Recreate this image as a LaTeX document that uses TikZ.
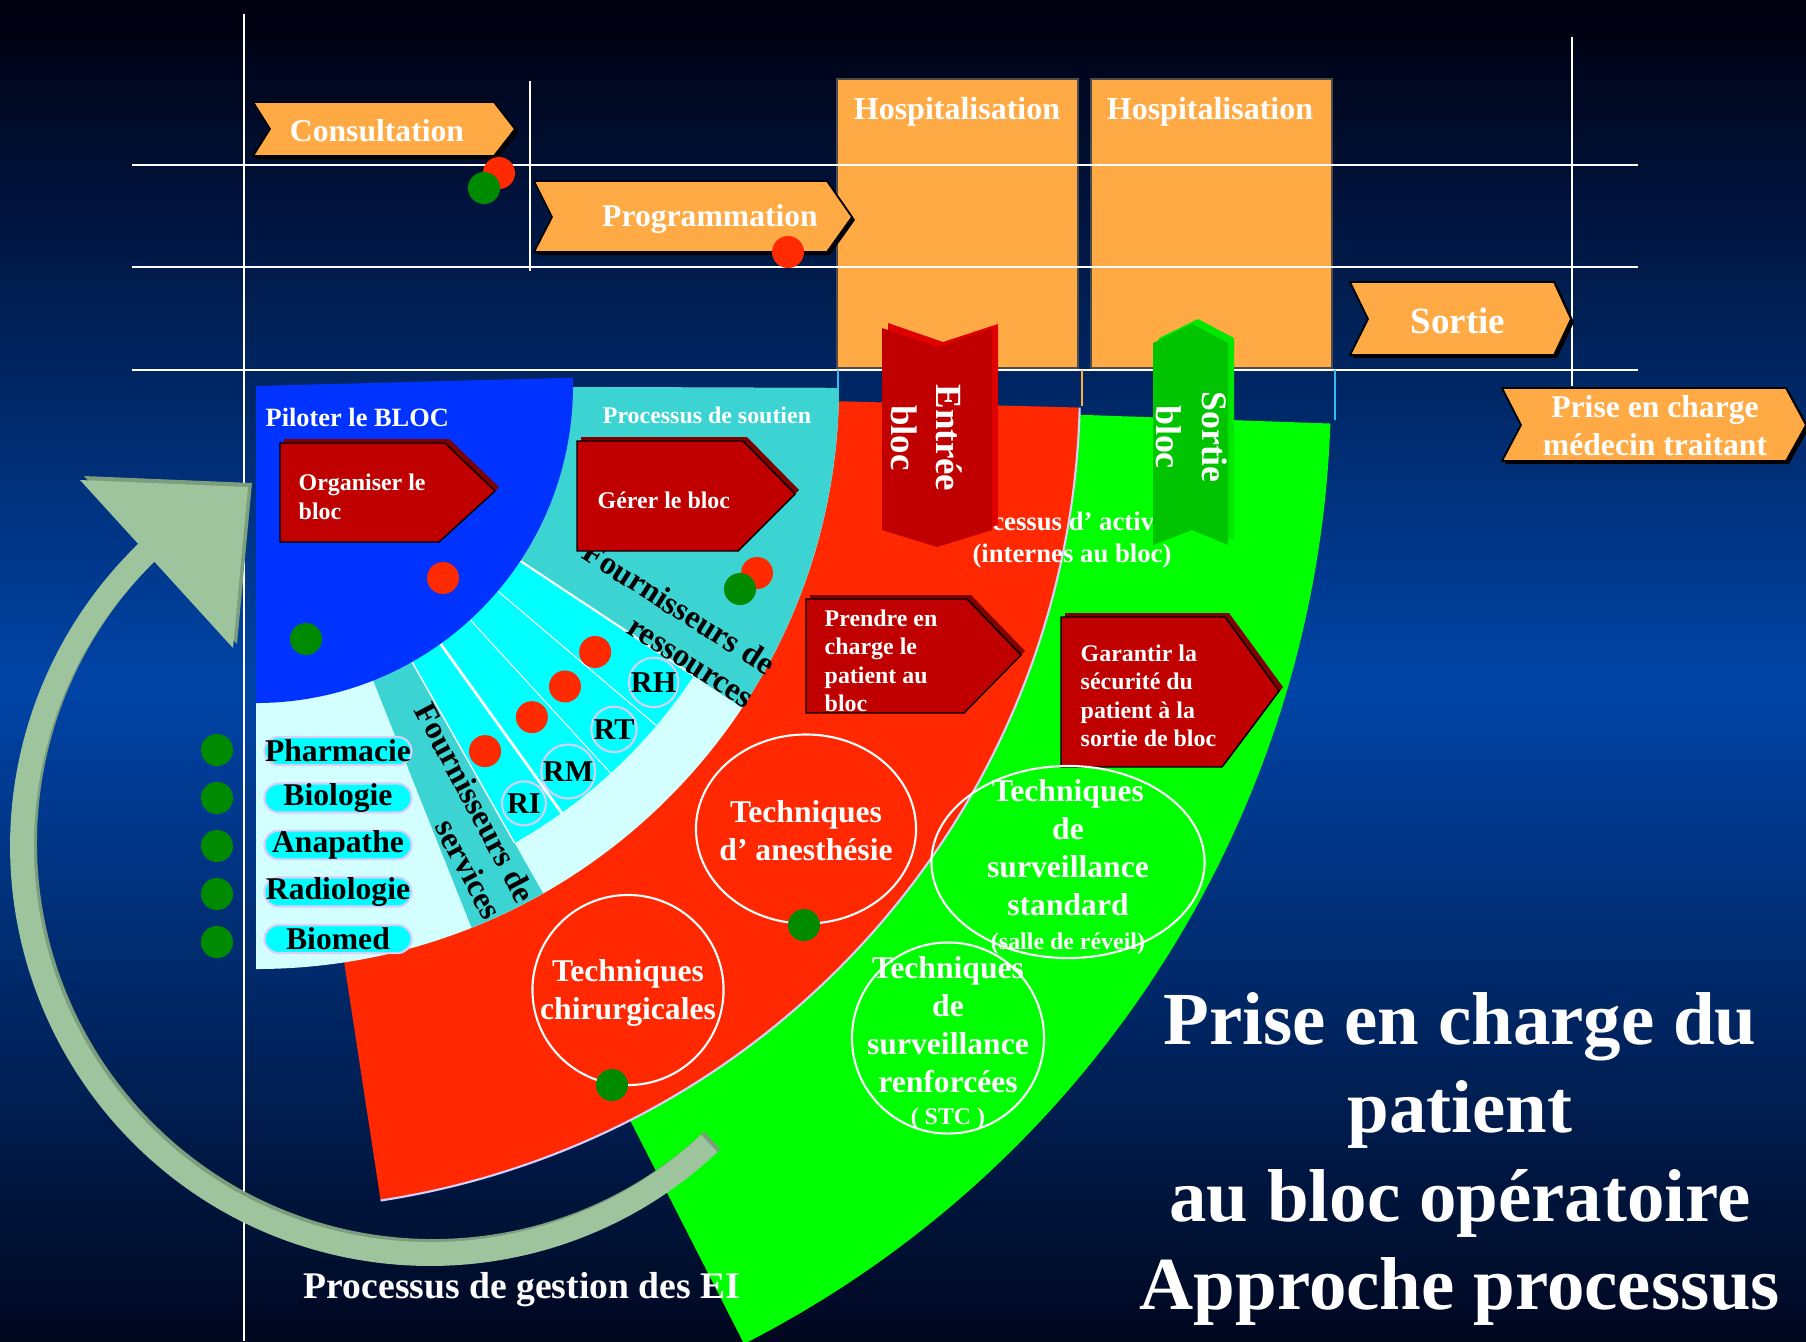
\documentclass[tikz,border=0pt]{standalone}
\usepackage{fontspec}
\setmainfont{Liberation Serif}
\usetikzlibrary{shapes.geometric}

\definecolor{bgtop}{HTML}{000010}
\definecolor{bgmid}{HTML}{0044A6}
\definecolor{bgbot}{HTML}{00061C}
\definecolor{boxorange}{HTML}{FFAA44}
\definecolor{pilotblue}{HTML}{0033FF}
\definecolor{soutien}{HTML}{3CD3D3}
\definecolor{cyanband}{HTML}{00FFFF}
\definecolor{palecyan}{HTML}{D4FFFF}
\definecolor{activred}{HTML}{FF2800}
\definecolor{activgreen}{HTML}{00FF00}
\definecolor{procred}{HTML}{C00000}
\definecolor{procdark}{HTML}{800000}
\definecolor{entreeside}{HTML}{E00000}
\definecolor{sortiefront}{HTML}{00C400}
\definecolor{sortieside}{HTML}{00E800}
\definecolor{dotred}{HTML}{FF2A00}
\definecolor{dotgreen}{HTML}{008A00}
\definecolor{loopgreen}{HTML}{9DC49D}
\definecolor{loopdark}{HTML}{7C9E7C}
\definecolor{lavender}{HTML}{D6D0FF}

\tikzset{
  lbl/.style 2 args={inner sep=0pt, text=white, font=\bfseries\fontsize{#1}{#2}\selectfont},
  darklbl/.style 2 args={lbl={#1}{#2}, text=black},
  chev/.style={fill=boxorange, draw=black, line width=0.5pt,
    preaction={fill=black, transform canvas={shift={(3,3)}}}},
  hospbox/.style={fill=boxorange, draw=black!70, line width=0.4pt},
  procbox/.style={fill=procred, preaction={fill=procdark, transform canvas={shift={(4,-4)}}}},
  gridline/.style={white, line width=0.75pt},
  techcirc/.style={ellipse, draw=white, line width=0.6pt, inner sep=0pt},
  rescirc/.style={circle, draw=lavender, line width=0.6pt, minimum size=0.44cm, inner sep=0pt,
    text=black, font=\bfseries\fontsize{8.6}{10}\selectfont},
  pill/.style={rounded corners=0.14cm, fill=cyanband, draw=lavender, line width=0.6pt,
    minimum width=1.47cm, minimum height=0.28cm, inner sep=0pt,
    text=black, font=\bfseries\fontsize{9}{10}\selectfont},
}

\begin{document}
\begin{tikzpicture}[x=0.01cm, y=-0.01cm]
  \useasboundingbox (0,0) rectangle (1806,1341);
  % fond en degrade
  \foreach \i in {0,...,33}{
    \pgfmathtruncatemacro\p{\i*3}
    \fill[bgmid!\p!bgtop] (0,{\i*20}) rectangle (1806,{\i*20+21});
  }
  \foreach \i in {0,...,33}{
    \pgfmathtruncatemacro\p{\i*3}
    \fill[bgbot!\p!bgmid] (0,{680+\i*20}) rectangle (1806,{680+\i*20+21});
  }

  % hospitalisation
  \draw[hospbox] (837,79) rectangle (1078,368);
  \draw[hospbox] (1091,79) rectangle (1332,368);
  \node[lbl={9.1}{11}] (hosp1) at (957,112) {Hospitalisation};
  \node[lbl={9.1}{11}] (hosp2) at (1210,112) {Hospitalisation};

  % grid
  \foreach \y in {165,267,370}
    \draw[gridline] (132,\y) -- (1638,\y);
  \draw[gridline, line width=0.6pt] (244,14) -- (244,1341);
  \draw[gridline, line width=0.6pt] (530,81) -- (530,271);
  \draw[gridline, line width=0.6pt] (1572,37) -- (1572,386);

  % parcours
  \draw[chev] (253,102) -- (494,102) -- (515,129) -- (494,156) -- (253,156) -- (270,129) -- cycle;
  \node[lbl={9}{11}] (consult) at (377,131) {Consultation};
  \draw[chev] (534,181) -- (827,181) -- (852,217) -- (827,252) -- (534,252) -- (552,217) -- cycle;
  \node[lbl={9}{11}] (prog) at (710,219) {Programmation};
  \draw[chev] (1350,282) -- (1554,282) -- (1571,319) -- (1554,355) -- (1350,355) -- (1368,319) -- cycle;
  \node[lbl={10.5}{12}] (sortie) at (1458,321) {Sortie};
  \draw[chev] (1502,388) -- (1786,388) -- (1806,425) -- (1786,461) -- (1502,461) -- (1521,425) -- cycle;
  \node[lbl={9}{10.8}, align=center] (medecin) at (1655,426) {Prise en charge\\médecin traitant};

  % eventail
  \begin{scope}[shift={(256,386)}]
    \fill[activgreen] (0,0) -- (2:1075) arc[start angle=2, end angle=63, radius=1075] -- cycle;
    \fill[activred] (0,0) -- (1.5:824) arc[start angle=1.5, end angle=81.3, radius=824] -- cycle;
    \draw[lavender, line width=0.6pt] (1.5:824) arc[start angle=1.5, end angle=81.3, radius=824];
    \fill[palecyan] (0,0) -- (0.2:583) arc[start angle=0.2, end angle=90, radius=583] -- cycle;
    \fill[soutien] (0,0) -- (0.2:583) arc[start angle=0.2, end angle=33.5, radius=583] -- cycle;
    \fill[soutien] (0,0) -- (60.5:583) arc[start angle=60.5, end angle=68.3, radius=583] -- cycle;
    \fill[cyanband] (0,0) -- (33.5:525) arc[start angle=33.5, end angle=60.5, radius=525] -- cycle;
    \foreach \ang/\lw in {33.5/0.6pt, 40.3/0.3pt, 47.5/0.3pt, 54.4/0.8pt, 60.5/0.4pt}
      \draw[white, line width=\lw] (\ang:317) -- (\ang:525);
    \fill[pilotblue] (0,0) -- (-1.5:317) arc[start angle=-1.5, end angle=90, radius=317] -- cycle;
    % ressources
    \foreach \res/\ang/\dotang in {RH/36.7/38.1, RT/43.8/44.2, RM/51/50.2, RI/57.3/57.9}{
      \fill[dotred] (\dotang:431) circle (16);
      \node[rescirc] (\res) at (\ang:496) {\res};
    }
  \end{scope}
  \draw[cyan!80, line width=0.4pt] (838,370) -- (838,390);
  \draw[boxorange, line width=0.4pt] (1082,370) -- (1082,406);
  \draw[cyan!80, line width=0.4pt] (1335,370) -- (1335,420);

  \node[lbl={7.5}{9}, anchor=west] (piloter) at (265,417) {Piloter le BLOC};
  \node[lbl={6.8}{8}] (soutientxt) at (707,415) {Processus de soutien};
  \node[darklbl={9.2}{11}, align=right, rotate=-32.5] (fressources) at (669,624) {Fournisseurs de\\ressources};
  \node[darklbl={9.2}{10.5}, align=right, rotate=-62] (fservices) at (459,811) {Fournisseurs de\\services};

  % services
  \foreach \svc [count=\i from 0] in {Pharmacie,Biologie,Anapathe,Radiologie,Biomed}{
    \node[pill] (svc\i) at (338,{751+47*\i}) {\svc};
    \fill[dotgreen] (217,{750+48*\i}) circle (16);
  }

  % processus
  \draw[procbox] (280,443) -- (445,443) -- (495,491) -- (439,542) -- (280,542) -- cycle;
  \node[lbl={6.8}{8.1}, anchor=west, align=left] (organiser) at (298,497) {Organiser le\\bloc};
  \draw[procbox] (577,441) -- (743,441) -- (795,494) -- (738,551) -- (577,551) -- cycle;
  \node[lbl={6.8}{8.1}, anchor=west] (gerer) at (597,500) {Gérer le bloc};
  \draw[procbox] (806,599) -- (967,599) -- (1021,655) -- (964,713) -- (806,713) -- cycle;
  \node[lbl={6.8}{8.1}, anchor=west, align=left] (prendre) at (824,661) {Prendre en\\charge le\\patient au\\bloc};
  \draw[procbox] (1061,617) -- (1225,617) -- (1279,691) -- (1222,767) -- (1061,767) -- cycle;
  \node[lbl={6.8}{8.1}, anchor=west, align=left] (garantir) at (1080,696) {Garantir la\\sécurité du\\patient à la\\sortie de bloc};

  \node[lbl={7.6}{9}, align=center] (activites) at (1072,540) {Processus d’ activités\\(internes au bloc)};

  % entree / sortie bloc
  \fill[procred, preaction={fill=entreeside, transform canvas={shift={(6,-5)}}}]
    (882,328) -- (937,347) -- (992,329) -- (992,530) -- (937,547) -- (882,530) -- cycle;
  \node[lbl={10.5}{12.8}, align=center, rotate=-90] (entree) at (927,438) {Entrée\\bloc};
  \fill[sortiefront, preaction={fill=sortieside, transform canvas={shift={(6,-5)}}}]
    (1153,343) -- (1192,324) -- (1228,343) -- (1228,545) -- (1192,530) -- (1153,545) -- cycle;
  \node[lbl={10.2}{13}, align=center, rotate=-90] (sortiebloc) at (1192,437) {Sortie\\bloc};

  % techniques
  \node[techcirc, minimum width=2.2cm, minimum height=1.89cm] (anesth) at (806,829) {};
  \node[lbl={9}{10.8}, align=center] at (806,831) {Techniques\\d’ anesthésie};
  \node[techcirc, minimum width=1.91cm, minimum height=1.9cm] (chir) at (628,990) {};
  \node[lbl={9}{10.8}, align=center] at (628,993) {Techniques\\chirurgicales};
  \node[techcirc, minimum width=2.73cm, minimum height=1.92cm] (standard) at (1068,862) {};
  \node[lbl={9}{10.8}, align=center] at (1068,867)
    {Techniques\\de\\surveillance\\standard\\[-1pt]{\fontsize{6.8}{8}\selectfont(salle de réveil)}};
  \node[techcirc, minimum width=1.92cm, minimum height=1.91cm] (renforce) at (948,1038) {};
  \node[lbl={9}{10.8}, align=center] at (948,1043)
    {Techniques\\de\\surveillance\\renforcées\\[-1.5pt]{\fontsize{6.8}{8}\selectfont( STC )}};

  % gestion des EI
  \draw[loopgreen, line width=6.8pt, preaction={draw=loopdark, line width=6.8pt, transform canvas={shift={(3,-3)}}}]
    (430,846) ++(46.8:408) arc[start angle=46.8, end angle=227, radius=408];
  \fill[loopgreen, preaction={fill=loopdark, transform canvas={shift={(4,-4)}}}]
    (80,480) -- (248,487) -- (233,648) -- cycle;
  \node[lbl={10.7}{12}] (gestion) at (522,1290) {Processus de gestion des EI};

  \node[lbl={21.3}{25.2}, align=center] (titre) at (1460,1159)
    {Prise en charge du\\patient\\au bloc opératoire\\Approche processus};

  % pastilles
  \fill[dotred] (499,173) circle (16);
  \fill[dotgreen] (484,188) circle (16);
  \fill[dotred] (788,252) circle (16);
  \fill[dotred] (443,578) circle (16);
  \fill[dotgreen] (306,639) circle (16);
  \fill[dotred] (757,573) circle (16);
  \fill[dotgreen] (740,589) circle (16);
  \fill[dotgreen] (804,925) circle (16);
  \fill[dotgreen] (612,1085) circle (16);
\end{tikzpicture}
\end{document}
